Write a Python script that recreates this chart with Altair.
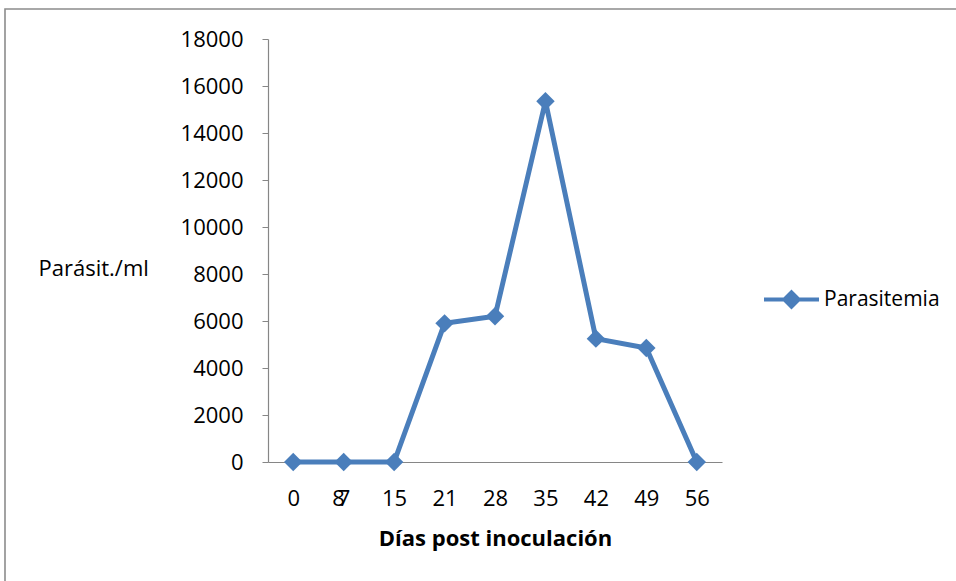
import altair as alt
import pandas as pd

# Días post inoculación (categorías del eje X) y parasitemia medida
dias = ["0", "7", "15", "21", "28", "35", "42", "49", "56"]
parasitos = [0, 0, 0, 5900, 6200, 15350, 5250, 4850, 0]
serie = "Parasitemia"

# Rótulo superpuesto en la segunda categoría
extra_dia = ["7"]
extra_texto = ["8"]

y_ticks = [0, 2000, 4000, 6000, 8000, 10000, 12000, 14000, 16000, 18000]

AZUL = "#4a7ebb"
GRIS = "#868686"
FUENTE = "Open Sans"
TAM = 22

df = pd.DataFrame({"dia": dias, "valor": parasitos, "serie": [serie] * len(dias)})
df_extra = pd.DataFrame({"dia": extra_dia, "texto": extra_texto})

W, H = 454, 423

x_enc = alt.X(
    "dia:N",
    sort=dias,
    scale=alt.Scale(paddingInner=0, paddingOuter=0),
    axis=alt.Axis(
        title="Días post inoculación",
        labelAngle=0,
        ticks=False,
        labelPadding=26,
        labelFontSize=TAM,
        titleFontSize=22,
        titleFontWeight="bold",
        titlePadding=19,
        domainColor=GRIS,
        domainWidth=1.2,
    ),
)
x_simple = alt.X("dia:N", sort=dias)
y_enc = alt.Y(
    "valor:Q",
    scale=alt.Scale(domain=[0, 18000], nice=False),
    axis=alt.Axis(
        title="Parásit./ml",
        values=y_ticks,
        format="d",
        grid=False,
        tickSize=6,
        tickColor=GRIS,
        domainColor=GRIS,
        domainWidth=1.2,
        labelPadding=19,
        labelFontSize=TAM,
        titleFontSize=TAM,
        titleFontWeight="normal",
        titleAngle=0,
        titleAlign="left",
        titleBaseline="middle",
        titleX=-230,
        titleY=229,
    ),
)
color_enc = alt.Color(
    "serie:N",
    scale=alt.Scale(range=[AZUL]),
    legend=alt.Legend(
        title=None,
        orient="none",
        legendX=494,
        legendY=231,
        symbolType="M-1,0H1M0,-0.26L0.26,0L0,0.26L-0.26,0Z",
        symbolSize=3025,
        symbolStrokeWidth=4,
        symbolFillColor=AZUL,
        symbolStrokeColor=AZUL,
        labelFontSize=21,
        labelOffset=3,
        labelColor="black",
    ),
)

base = alt.Chart(df)
linea = base.mark_line(strokeWidth=5).encode(x=x_enc, y=y_enc, color=color_enc)
puntos = base.mark_point(shape="diamond", filled=True, size=340, opacity=1).encode(
    x=x_simple, y="valor:Q", color=color_enc
)
rotulo = alt.Chart(df_extra).mark_text(
    fontSize=TAM, font=FUENTE, dx=-5, baseline="middle", color="black"
).encode(x=x_simple, y=alt.value(460), text="texto:N")

marco = alt.Chart(alt.Data(values=[{}])).mark_rect(
    fill=None, stroke="#8c8c8c", strokeWidth=1.6
).encode(
    x=alt.value(-263), x2=alt.value(W + 400), y=alt.value(-30), y2=alt.value(H + 300)
)

chart = (
    alt.layer(marco, linea, puntos, rotulo)
    .properties(
        width=W,
        height=H,
        autosize=alt.AutoSizeParams(type="none"),
        padding={"left": 268, "top": 39, "right": 234, "bottom": 119},
    )
    .configure(font=FUENTE)
    .configure_axis(labelColor="black", titleColor="black", labelFont=FUENTE, titleFont=FUENTE)
    .configure_legend(labelFont=FUENTE)
    .configure_view(stroke=None)
)

chart.save("out.html", embed_options={"renderer": "svg", "actions": False})
